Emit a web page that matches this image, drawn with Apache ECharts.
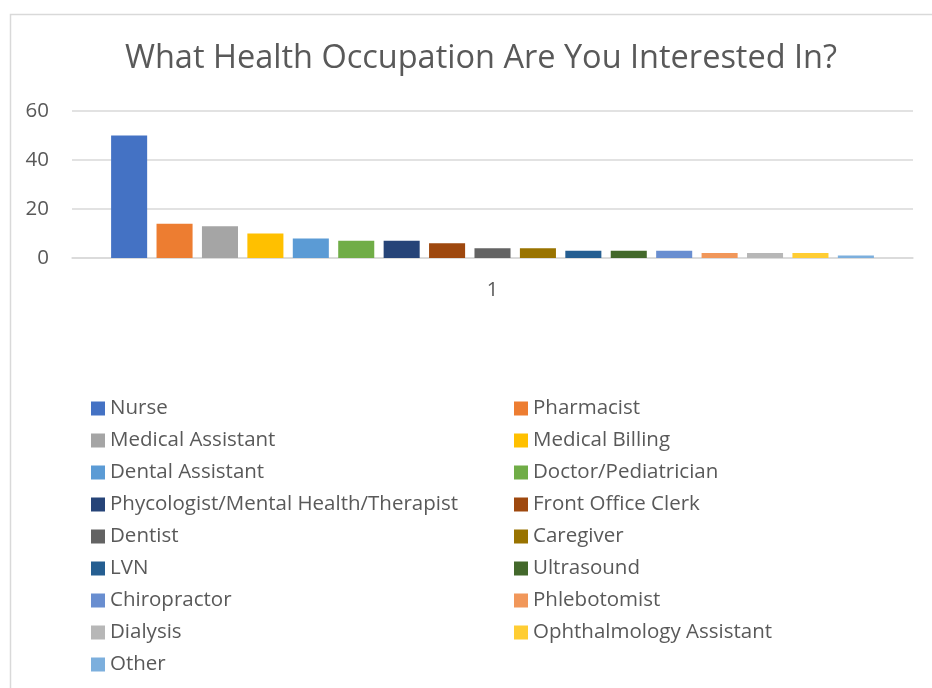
<!DOCTYPE html>
<html>
<head>
<meta charset="utf-8">
<script src="https://cdn.jsdelivr.net/npm/echarts@6/dist/echarts.min.js"></script>
<style>
  html, body { margin: 0; padding: 0; background: #fff; }
  #chart { width: 932px; height: 688px; }
</style>
</head>
<body>
<div id="chart"></div>
<script>
const titleText = 'What Health Occupation Are You Interested In?'
const categories = ['1']
const seriesNames = [
  'Nurse', 'Pharmacist', 'Medical Assistant', 'Medical Billing',
  'Dental Assistant', 'Doctor/Pediatrician', 'Phycologist/Mental Health/Therapist',
  'Front Office Clerk', 'Dentist', 'Caregiver', 'LVN', 'Ultrasound',
  'Chiropractor', 'Phlebotomist', 'Dialysis', 'Ophthalmology Assistant', 'Other'
]
const seriesValues = [50, 14, 13, 10, 8, 7, 7, 6, 4, 4, 3, 3, 3, 2, 2, 2, 1]
const yTicks = [0, 20, 40, 60]

const palette = [
  '#4472C4', '#ED7D31', '#A5A5A5', '#FFC000', '#5B9BD5', '#70AD47',
  '#264478', '#9E480E', '#636363', '#997300', '#255E91', '#43682B',
  '#698ED0', '#F1975A', '#B7B7B7', '#FFCD33', '#7CAFDD'
]
const textColor = '#595959'
const fontFamily = 'Open Sans'

const chart = echarts.init(document.getElementById('chart'))

const series = seriesNames.map((name, i) => ({
  name,
  type: 'bar',
  data: [seriesValues[i]],
  barCategoryGap: '9.3%',
  barGap: '26%',
  itemStyle: { color: palette[i] }
}))

// legend laid out in two columns, same order as Excel (row by row)
const legendLeft = seriesNames.filter((n, i) => i % 2 === 0)
const legendRight = seriesNames.filter((n, i) => i % 2 === 1)
const legendBase = {
  orient: 'vertical',
  top: 398,
  padding: 0,
  icon: 'rect',
  itemWidth: 14,
  itemHeight: 14,
  itemGap: 11,
  textStyle: { color: textColor, fontSize: 20.5, fontFamily, lineHeight: 21 }
}

chart.setOption({
  animation: false,
  color: palette,
  title: {
    text: titleText,
    left: 476,
    textAlign: 'center',
    top: 37,
    textStyle: { color: textColor, fontSize: 32.5, fontWeight: 'normal', fontFamily }
  },
  legend: [
    Object.assign({}, legendBase, { left: 91, data: legendLeft }),
    Object.assign({}, legendBase, { left: 514, data: legendRight })
  ],
  grid: { left: 72, right: 19, top: 111, height: 147, containLabel: false },
  xAxis: {
    type: 'category',
    data: categories,
    axisLine: { lineStyle: { color: '#d9d9d9', width: 1.5 } },
    axisTick: { show: false },
    axisLabel: { color: textColor, fontSize: 20, fontFamily, margin: 22 }
  },
  yAxis: {
    type: 'value',
    min: yTicks[0],
    max: yTicks[yTicks.length - 1],
    interval: yTicks[1] - yTicks[0],
    axisLine: { show: false },
    axisTick: { show: false },
    axisLabel: { color: textColor, fontSize: 20.5, fontFamily, margin: 23 },
    splitLine: { lineStyle: { color: '#d9d9d9', width: 1.5 } }
  },
  graphic: [{
    type: 'rect',
    left: 8, top: 12,
    shape: { width: 960, height: 720 },
    style: { fill: 'none', stroke: '#d9d9d9', lineWidth: 1.5 },
    silent: true,
    z: -1
  }],
  series
})
</script>
</body>
</html>
